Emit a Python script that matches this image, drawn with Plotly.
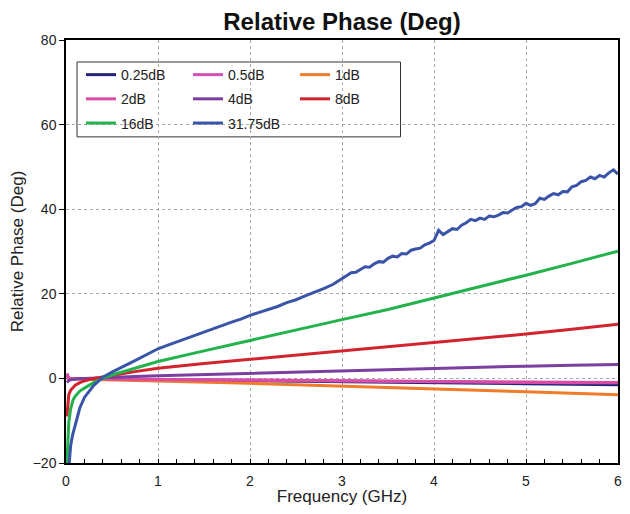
import plotly.graph_objects as go

# ---- data ----
freq = [0.01, 0.02, 0.03, 0.05, 0.075, 0.1, 0.15, 0.2, 0.3, 0.4, 0.5, 0.75,
        1, 1.5, 2, 2.5, 3, 3.5, 4, 4.5, 5, 5.5, 6]

ph_025 = [0.2, 0, -0.05, -0.05, -0.1, -0.1, -0.1, -0.1, -0.15, -0.2, -0.2, -0.25,
          -0.3, -0.4, -0.55, -0.65, -0.75, -0.9, -1.0, -1.1, -1.25, -1.4, -1.5]
ph_05 = [1.2, 0.3, 0.1, 0, 0, -0.05, -0.05, -0.1, -0.1, -0.1, -0.15, -0.2,
         -0.2, -0.3, -0.4, -0.5, -0.55, -0.65, -0.7, -0.75, -0.85, -0.9, -0.95]
ph_1 = [0.3, 0.1, 0, -0.05, -0.1, -0.1, -0.15, -0.2, -0.25, -0.3, -0.35, -0.45,
        -0.55, -0.85, -1.15, -1.5, -1.8, -2.15, -2.45, -2.8, -3.15, -3.5, -3.85]
ph_2 = [0.8, 0.2, 0, -0.1, -0.1, -0.1, -0.1, -0.1, -0.1, -0.15, -0.15, -0.2,
        -0.25, -0.35, -0.45, -0.55, -0.6, -0.7, -0.75, -0.85, -0.9, -1.0, -1.05]
ph_4 = [-1.0, -0.7, -0.5, -0.3, -0.2, -0.1, 0, 0, 0.1, 0.2, 0.3, 0.45,
        0.6, 0.9, 1.2, 1.5, 1.8, 2.1, 2.4, 2.7, 2.9, 3.1, 3.3]
ph_8 = [-9, -5.2, -3.9, -2.8, -2.1, -1.6, -1.0, -0.6, 0, 0.4, 0.7, 1.6,
        2.4, 3.5, 4.5, 5.5, 6.5, 7.4, 8.4, 9.4, 10.5, 11.6, 12.8]
ph_16 = [-20, -14, -10.5, -7.2, -5.2, -4.2, -3.0, -2.3, -1.0, 0, 0.8, 2.4,
         4.0, 6.5, 9.0, 11.4, 13.9, 16.3, 19.0, 21.6, 24.4, 27.2, 30.1]

freq_3175 = [0.035, 0.05, 0.07, 0.1, 0.15, 0.2, 0.3, 0.4, 0.5, 0.75,
             1.0, 1.1, 1.2, 1.3, 1.4, 1.5, 1.6, 1.7, 1.8, 1.9, 2.0,
             2.1, 2.2, 2.3, 2.4, 2.5, 2.6, 2.7, 2.8, 2.9, 3.0,
             3.05, 3.1, 3.15, 3.2, 3.25, 3.3, 3.35, 3.4, 3.45, 3.5,
             3.55, 3.6, 3.65, 3.7, 3.75, 3.8, 3.85, 3.9, 3.95, 4.0,
             4.05, 4.1, 4.15, 4.2, 4.25, 4.3, 4.35, 4.4, 4.45, 4.5,
             4.55, 4.6, 4.65, 4.7, 4.75, 4.8, 4.85, 4.9, 4.95, 5.0,
             5.05, 5.1, 5.15, 5.2, 5.25, 5.3, 5.35, 5.4, 5.45, 5.5,
             5.55, 5.6, 5.65, 5.7, 5.75, 5.8, 5.85, 5.9, 5.95, 6.0]
ph_3175 = [-20, -16, -13.5, -11, -7, -4.5, -1.7, 0.3, 1.5, 4.2,
           7.0, 7.8, 8.6, 9.4, 10.2, 11.0, 11.7, 12.5, 13.3, 14.0, 14.9,
           15.6, 16.3, 17.0, 17.9, 18.6, 19.5, 20.3, 21.2, 22.2, 23.6,
           24.3, 25.0, 25.1, 25.8, 26.4, 26.3, 27.1, 27.6, 27.5, 28.4,
           28.9, 28.7, 29.5, 29.4, 30.3, 30.6, 30.8, 31.6, 32.0, 32.6,
           35.0, 34.0, 34.6, 35.4, 35.2, 36.2, 36.8, 37.6, 37.3, 37.9,
           37.6, 38.4, 38.2, 38.6, 39.2, 39.1, 39.8, 40.4, 40.6, 41.4,
           40.9, 41.3, 42.6, 42.3, 43.1, 43.7, 43.4, 44.2, 44.1, 45.3,
           45.6, 46.5, 46.8, 47.6, 47.2, 48.0, 47.6, 48.6, 49.3, 48.3]

names = ["0.25dB", "0.5dB", "1dB", "2dB", "4dB", "8dB", "16dB", "31.75dB"]
colors = ["#24247E", "#D24FB4", "#F07C2A", "#D84CA6", "#7A3FA0", "#D2232E", "#23B24B", "#3A55A8"]
legend_of = ["legend", "legend2", "legend3", "legend", "legend2", "legend3", "legend", "legend2"]

series_x = [freq] * 7 + [freq_3175]
series_y = [ph_025, ph_05, ph_1, ph_2, ph_4, ph_8, ph_16, ph_3175]

FONT = "Arial, Liberation Sans, sans-serif"

fig = go.Figure()
for n, c, lg, xs, ys in zip(names, colors, legend_of, series_x, series_y):
    fig.add_trace(go.Scatter(x=xs, y=ys, name=n, mode="lines",
                             line=dict(color=c, width=3),
                             legend=lg, legendgroup=n))

leg_common = dict(yanchor="top", xanchor="left", y=0.955, bgcolor="rgba(0,0,0,0)",
                  borderwidth=0, tracegroupgap=3, itemwidth=30,
                  font=dict(family=FONT, size=14, color="#222"))

fig.update_layout(
    width=614, height=498,
    margin=dict(l=58, r=4, t=32, b=43, autoexpand=False),
    paper_bgcolor="white", plot_bgcolor="white",
    title=dict(text="<b>Relative Phase (Deg)</b>", xref="paper", x=0.5, xanchor="center",
               y=0.973, yanchor="middle",
               font=dict(family=FONT, size=24, color="#111")),
    font=dict(family=FONT, size=14, color="#222"),
    legend=dict(x=0.0272, **leg_common),
    legend2=dict(x=0.221, **leg_common),
    legend3=dict(x=0.4149, **leg_common),
    shapes=[dict(type="rect", xref="paper", yref="paper",
                 x0=0.0199, x1=0.606, y0=0.771, y1=0.948,
                 line=dict(color="#333", width=1), fillcolor="white", layer="below")],
    xaxis=dict(range=[0, 6], dtick=1, showline=True, linecolor="black", linewidth=1.5,
               mirror=True, ticks="inside", ticklen=4, tickcolor="black",
               showgrid=True, gridcolor="#A8A8A8", griddash="dot", gridwidth=1,
               zeroline=False, automargin=True, ticklabelstandoff=4,
               ticklabeloverflow="allow",
               minor=dict(dtick=0.2, ticks="inside", ticklen=4, tickcolor="black", showgrid=False),
               title=dict(text="Frequency (GHz)", font=dict(family=FONT, size=17, color="#222"),
                          standoff=4),
               tickfont=dict(family=FONT, size=14, color="#222")),
    yaxis=dict(range=[-20, 80], dtick=20, showline=True, linecolor="black", linewidth=1.5,
               mirror=True, ticks="outside", ticklen=5, tickcolor="black",
               showgrid=True, gridcolor="#A8A8A8", griddash="dot", gridwidth=1,
               zeroline=False, automargin=False,
               title=dict(text="Relative Phase (Deg)", font=dict(family=FONT, size=17, color="#222"),
                          standoff=8),
               tickfont=dict(family=FONT, size=14, color="#222")),
)

fig.write_html("out.html")
